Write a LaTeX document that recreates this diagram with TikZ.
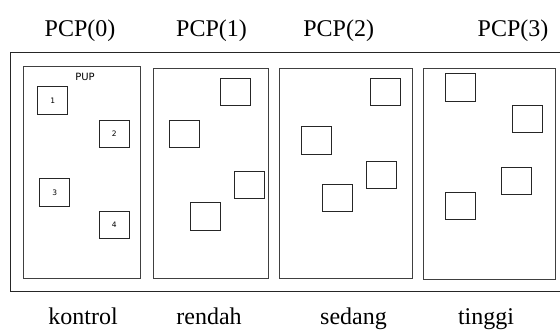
\documentclass[tikz,border=0pt]{standalone}
\usepackage{fontspec}
\setmainfont{Liberation Serif}
\newfontfamily\boxfont{DejaVu Sans}
\begin{document}
\begin{tikzpicture}[x=1pt,y=-1pt,
  frame/.style={draw=black!85,line width=1pt},
  panel/.style={draw=black!75,line width=1pt,rectangle,inner sep=0pt},
  plot/.style={draw=black!85,line width=0.9pt,rectangle,inner sep=0pt,minimum width=30pt,minimum height=27.5pt,font=\boxfont\fontsize{7.5}{9}\selectfont},
  lbl/.style={anchor=base,inner sep=0pt,font=\fontsize{24}{28}\selectfont}]
\useasboundingbox (0,0) rectangle (560,331);
% outer frame
\coordinate (ftr) at (562,53);
\coordinate (ftl) at (10,53);
\coordinate (fbl) at (10,292);
\coordinate (fbr) at (562,292);
\draw[frame] (ftr) -- (ftl) -- (fbl) -- (fbr);
% panels
\node[panel,minimum width=117pt,minimum height=212pt] (p1) at (81.5,173) {};
\node[panel,minimum width=115pt,minimum height=210pt] (p2) at (210.5,174) {};
\node[panel,minimum width=133pt,minimum height=210pt] (p3) at (345.5,174) {};
\node[panel,minimum width=132pt,minimum height=211pt] (p4) at (489,174.5) {};
% PUP label
\node[anchor=base,inner sep=0pt,font=\boxfont\fontsize{10}{12}\selectfont] (pup) at (85,81) {PUP};
% plots panel 1
\node[plot] (b1) at (52.7,100.3) {1};
\node[plot] (b2) at (114.3,133.8) {2};
\node[plot] (b3) at (54.7,192.7) {3};
\node[plot] (b4) at (114.3,225.2) {4};
% panel 2
\node[plot] (c1) at (235.3,92) {};
\node[plot] (c2) at (184.3,134) {};
\node[plot] (c3) at (249.3,184.8) {};
\node[plot] (c4) at (205.8,216.5) {};
% panel 3
\node[plot] (d1) at (385.5,91.8) {};
\node[plot] (d2) at (316.5,140.3) {};
\node[plot] (d3) at (381.7,174.8) {};
\node[plot] (d4) at (337.7,197.8) {};
% panel 4
\node[plot] (e1) at (460.3,87.3) {};
\node[plot] (e2) at (527.3,119) {};
\node[plot] (e3) at (516.7,181) {};
\node[plot] (e4) at (460.3,205.8) {};
% top labels
\node[lbl] (t0) at (80,36.7) {PCP(0)};
\node[lbl] (t1) at (211.5,36.7) {PCP(1)};
\node[lbl] (t2) at (338.7,36.7) {PCP(2)};
\node[lbl] (t3) at (513,36.7) {PCP(3)};
% bottom labels
\node[lbl] (l0) at (83,325) {kontrol};
\node[lbl] (l1) at (209,325) {rendah};
\node[lbl] (l2) at (353.5,325) {sedang};
\node[lbl] (l3) at (486,325) {tinggi};
\end{tikzpicture}
\end{document}
